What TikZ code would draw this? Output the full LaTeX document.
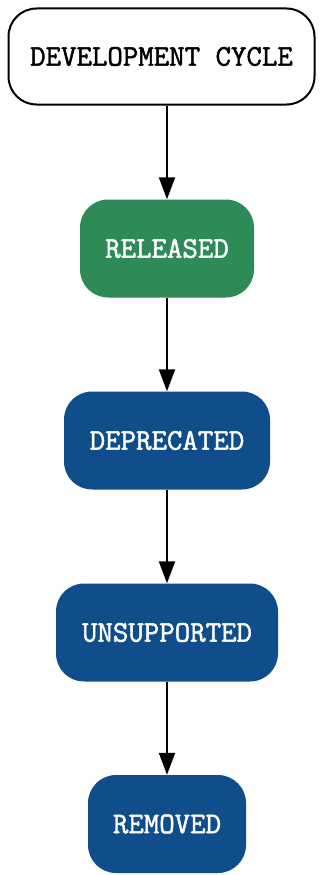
\documentclass[tikz,border=0pt]{standalone}
\usepackage{fontspec}
\newfontfamily\courfont[FakeBold=1.6]{Latin Modern Mono}
\usetikzlibrary{arrows.meta,calc}
\definecolor{relgreen}{HTML}{2E8B57}
\definecolor{depblue}{HTML}{104E8B}
\begin{document}
\begin{tikzpicture}[x=1pt,y=-1pt,
  box/.style={rectangle, rounded corners=28pt, inner sep=0pt, minimum height=98pt,
    font=\courfont\fontsize{30}{34}\selectfont},
  startbox/.style={box, draw=black, line width=2pt, fill=white, text=black},
  greenbox/.style={box, fill=relgreen, text=white},
  bluebox/.style={box, fill=depblue, text=white},
  flow/.style={draw=black, line width=2pt, -{Triangle[length=22pt,width=16pt]}}]
\useasboundingbox (0,0) rectangle (323,875);
\node[startbox, minimum width=306pt, minimum height=96pt] (dev) at (161.5,56.5) {DEVELOPMENT CYCLE};
\node[greenbox, minimum width=174pt] (rel) at (167,248.5) {RELEASED};
\node[bluebox, minimum width=206pt] (dep) at (167,440.5) {DEPRECATED};
\node[bluebox, minimum width=222pt] (uns) at (167,632.5) {UNSUPPORTED};
\node[bluebox, minimum width=158pt] (rem) at (167,824) {REMOVED};
\draw[flow] (rel.north |- dev.south) -- (rel.north);
\draw[flow] (rel.south) -- (dep.north);
\draw[flow] (dep.south) -- (uns.north);
\draw[flow] (uns.south) -- (rem.north);
\end{tikzpicture}
\end{document}
